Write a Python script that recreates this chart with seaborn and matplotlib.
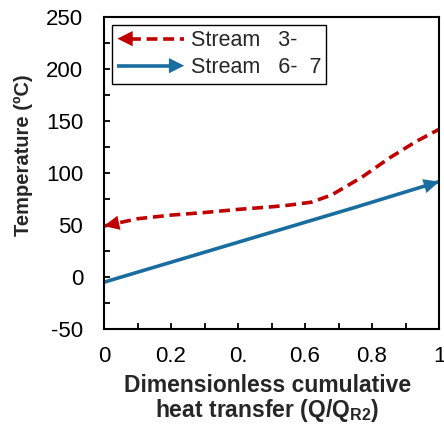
import numpy as np
import pandas as pd
import matplotlib
matplotlib.use("Agg")
import matplotlib.pyplot as plt
import seaborn as sns
from matplotlib.lines import Line2D
from matplotlib.patches import Polygon
from matplotlib.legend_handler import HandlerBase
from matplotlib.ticker import MultipleLocator, FixedLocator, FixedFormatter

# Hot stream (3-) and cold stream (6-7) temperature profiles
hot_q = [0.0, 0.1, 0.2, 0.3, 0.4, 0.5, 0.55, 0.62, 0.68, 0.77, 0.85, 0.93, 1.0]
hot_t = [49, 56, 59.5, 62, 65, 67.5, 69, 72, 79, 96, 114, 130, 142]
cold_q = [0.0, 0.25, 0.5, 0.75, 1.0]
cold_t = [-5, 19, 43, 67, 91.7]

x_ticks = [0, 0.2, 0.4, 0.6, 0.8, 1.0]
x_tick_labels = ["0", "0.2", "0.", "0.6", "0.8", "1"]
y_ticks = [-50, 0, 50, 100, 150, 200, 250]
y_tick_labels = ["-50", "0", "50", "100", "150", "200", "250"]
stream_labels = ["Stream   3-", "Stream   6-  7"]

RED = "#C00000"
BLUE = "#1A6E9F"

sns.set_theme(style="white")
plt.rcParams["font.family"] = ["Liberation Sans", "DejaVu Sans"]
plt.rcParams["mathtext.fontset"] = "custom"
plt.rcParams["mathtext.rm"] = "Liberation Sans"
plt.rcParams["mathtext.bf"] = "Liberation Sans:bold"

df = pd.concat([
    pd.DataFrame({"q": hot_q, "T": hot_t, "stream": stream_labels[0]}),
    pd.DataFrame({"q": cold_q, "T": cold_t, "stream": stream_labels[1]}),
])

fig, ax = plt.subplots(figsize=(4.44, 4.24), dpi=100)
fig.subplots_adjust(left=104 / 444, right=439 / 444, top=1 - 17 / 424, bottom=1 - 329 / 424)

sns.lineplot(data=df, x="q", y="T", hue="stream", style="stream",
             palette=[RED, BLUE], dashes=[(3, 1.6), ""], linewidth=2.6,
             sort=False, legend=False, ax=ax)
for ln in ax.get_lines():
    ln.set_solid_capstyle("butt")
    ln.set_dash_capstyle("butt")
    ln.set_solid_joinstyle("round")


def head(x_tip, y_tip, x_from, y_from, color):
    ax.annotate("", xy=(x_tip, y_tip), xytext=(x_from, y_from),
                arrowprops=dict(arrowstyle="-|>,head_length=0.55,head_width=0.26",
                                mutation_scale=20, color=color, lw=0,
                                shrinkA=0, shrinkB=0),
                annotation_clip=False)


# Flow direction arrow heads
head(hot_q[0], hot_t[0], hot_q[1], hot_t[1], RED)
head(cold_q[-1], cold_t[-1], cold_q[-2], cold_t[-2], BLUE)

ax.set_xlim(0, 1)
ax.set_ylim(-50, 250)
ax.xaxis.set_major_locator(FixedLocator(x_ticks))
ax.xaxis.set_major_formatter(FixedFormatter(x_tick_labels))
ax.xaxis.set_minor_locator(MultipleLocator(0.1))
ax.yaxis.set_major_locator(FixedLocator(y_ticks))
ax.yaxis.set_major_formatter(FixedFormatter(y_tick_labels))
ax.yaxis.set_minor_locator(MultipleLocator(25))
ax.tick_params(axis="both", which="both", direction="in", length=4.5, width=1.3,
               color="black", labelsize=16, labelcolor="black")
ax.tick_params(axis="both", which="both", bottom=True, left=True, top=False, right=False)
ax.tick_params(axis="x", which="major", pad=12)
ax.tick_params(axis="y", which="major", pad=15)
for s in ax.spines.values():
    s.set_visible(True)
    s.set_color("black")
    s.set_linewidth(1.5)
ax.set_xlabel("")
ax.set_ylabel("")

fig.text(268 / 444, 1 - 385 / 424, "Dimensionless cumulative", ha="center", va="center",
         fontsize=16.5, fontweight="bold")
fig.text(267 / 444, 1 - 410 / 424, r"heat transfer (Q/Q$_{\mathbf{R2}}$)", ha="center",
         va="center", fontsize=16.5, fontweight="bold")
fig.text(23 / 444, 1 - 155 / 424, "Temperature (ºC)", ha="center", va="center",
         rotation=90, fontsize=14.5, fontweight="bold")


class ArrowLegendHandler(HandlerBase):
    def __init__(self, color, dashed, pointing_left):
        super().__init__()
        self.color = color
        self.dashed = dashed
        self.pointing_left = pointing_left

    def create_artists(self, legend, orig_handle, xdescent, ydescent, width, height,
                       fontsize, trans):
        y = height / 2 - ydescent
        x0, x1 = -xdescent, width - xdescent
        hl, hw = 11, 5.5
        if self.pointing_left:
            line = Line2D([x0 + hl * 0.8, x1], [y, y], color=self.color, lw=2.6,
                          dashes=(3, 1.6) if self.dashed else (None, None),
                          dash_capstyle="butt", transform=trans)
            tri = Polygon([[x0, y], [x0 + hl, y + hw], [x0 + hl, y - hw]], closed=True,
                          facecolor=self.color, edgecolor="none", transform=trans)
        else:
            line = Line2D([x0, x1 - hl * 0.8], [y, y], color=self.color, lw=2.6,
                          solid_capstyle="butt", transform=trans)
            tri = Polygon([[x1, y], [x1 - hl, y + hw], [x1 - hl, y - hw]], closed=True,
                          facecolor=self.color, edgecolor="none", transform=trans)
        return [line, tri]


h_hot = Line2D([], [], color=RED)
h_cold = Line2D([], [], color=BLUE)
leg = ax.legend([h_hot, h_cold], stream_labels,
                handler_map={h_hot: ArrowLegendHandler(RED, True, True),
                             h_cold: ArrowLegendHandler(BLUE, False, False)},
                loc="upper left", bbox_to_anchor=(0.024, 0.975), borderaxespad=0,
                fontsize=15.5, handlelength=3.1, handletextpad=0.3, labelspacing=0.28,
                borderpad=0.25, fancybox=False, framealpha=1, edgecolor="black")
leg.get_frame().set_linewidth(1.0)

fig.savefig("out.png", dpi=100)
